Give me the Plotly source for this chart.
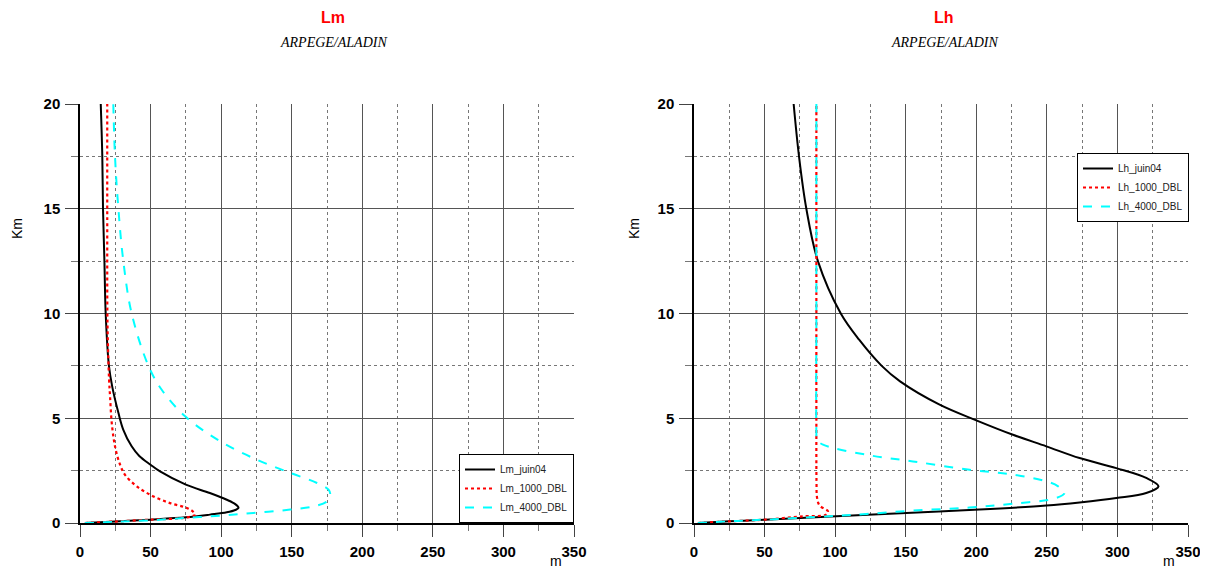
import plotly.graph_objects as go

# ---------------- data (x in m, height in km) ----------------
lm_juin04_x = [3.5, 25, 50, 75, 92, 104, 110, 112.3, 110, 104, 92, 75, 56.7, 50, 42, 36.6, 30.7, 27.2, 22.8, 20.5, 18.2, 17.3, 16.3, 15.8, 14.7]
lm_juin04_z = [0, 0.07, 0.16, 0.27, 0.40, 0.51, 0.62, 0.72, 0.90, 1.11, 1.43, 1.83, 2.46, 2.78, 3.2, 3.66, 4.45, 5.26, 6.52, 7.5, 10, 12.5, 15, 17.5, 20]

lm_1000_x = [3.5, 25, 50, 75, 81.6, 80, 75.7, 63.8, 52, 40.2, 31.9, 28.4, 24.8, 22.5, 21.3, 20.6, 19.8, 19.4, 19.3, 19.3]
lm_1000_z = [0, 0.07, 0.16, 0.26, 0.40, 0.55, 0.72, 0.95, 1.27, 1.75, 2.3, 2.78, 3.66, 4.77, 6.04, 6.84, 8.5, 10, 15, 20]

lm_4000_x = [3.5, 25, 50, 74.5, 99.3, 122.9, 149, 165.5, 175, 177.3, 176.1, 167.9, 149, 125.3, 99.3, 74.5, 57.9, 48.5, 36.6, 30.7, 27.2, 24.8, 23.6]
lm_4000_z = [0, 0.06, 0.13, 0.24, 0.35, 0.48, 0.64, 0.79, 1.03, 1.35, 1.59, 1.91, 2.39, 3.02, 3.9, 5.09, 6.36, 7.5, 10, 12.5, 15, 17.5, 20]

lh_juin04_x = [2.8, 25, 50, 100.8, 150.4, 202.3, 249.6, 273.2, 299.2, 320.4, 329.1, 320.4, 299.2, 273.2, 249.6, 226, 200, 174, 146, 133, 117, 104, 87.8, 79.6, 74.4, 70.6]
lh_juin04_z = [0, 0.08, 0.16, 0.32, 0.48, 0.64, 0.83, 0.98, 1.19, 1.43, 1.75, 2.15, 2.62, 3.10, 3.66, 4.21, 4.90, 5.65, 6.76, 7.5, 8.75, 10, 12.5, 15, 17.5, 20]

lh_1000_x = [2.8, 25, 50, 77.2, 93.7, 94.9, 89, 87.2, 86.8, 86.7, 86.7, 86.7]
lh_1000_z = [0, 0.08, 0.16, 0.32, 0.40, 0.56, 0.83, 1.2, 2, 5, 10, 20]

lh_4000_x = [2.8, 25, 50, 96.1, 122, 155.1, 195.3, 226, 256.6, 262.5, 258, 249.6, 226, 195.3, 155.1, 122, 91.4, 87, 86.7, 86.7, 86.7]
lh_4000_z = [0, 0.08, 0.16, 0.32, 0.43, 0.59, 0.74, 0.92, 1.19, 1.43, 1.75, 1.99, 2.31, 2.54, 2.94, 3.26, 3.74, 3.98, 4.3, 10, 20]

titles = ["Lm", "Lh"]
subtitle = "ARPEGE/ALADIN"
x_ticks = [0, 50, 100, 150, 200, 250, 300, 350]
y_ticks = [0, 5, 10, 15, 20]

# ---------------- figure ----------------
fig = go.Figure()

BLACK = dict(color="black", width=2, dash="solid")
RED = dict(color="#ff0000", width=2.2, dash="dot")
CYAN = dict(color="#00ffff", width=2, dash="dash")

def add(x, z, name, line, xa, ya, legend):
    fig.add_trace(go.Scatter(x=x, y=z, mode="lines", name=name,
                             line=dict(shape="spline", smoothing=1.0, **line),
                             xaxis=xa, yaxis=ya, legend=legend))

add(lm_juin04_x, lm_juin04_z, "Lm_juin04", BLACK, "x", "y", "legend")
add(lm_1000_x, lm_1000_z, "Lm_1000_DBL", RED, "x", "y", "legend")
add(lm_4000_x, lm_4000_z, "Lm_4000_DBL", CYAN, "x", "y", "legend")
add(lh_juin04_x, lh_juin04_z, "Lh_juin04", BLACK, "x2", "y2", "legend2")
add(lh_1000_x, lh_1000_z, "Lh_1000_DBL", RED, "x2", "y2", "legend2")
add(lh_4000_x, lh_4000_z, "Lh_4000_DBL", CYAN, "x2", "y2", "legend2")

# page body has an 8px margin: work in window pixels, shift by OFF
OFF = 8
W, H = 1208 - OFF, 573 - OFF
L, R, T = 80 - OFF, 1208 - 1188, 104 - OFF
B = 573 - 523
PW = W - L - R
PH = H - T - B

def px(xpix):
    return (xpix - OFF - L) / PW

def py(ypix):
    return (H - B - (ypix - OFF)) / PH

tickfont = dict(family="Liberation Sans", size=15, color="black", weight="bold")

def xaxis(domain, anchor):
    return dict(domain=domain, anchor=anchor, range=[0, 350],
                tickvals=x_ticks, ticks="outside", ticklen=12, tickcolor="#444",
                tickwidth=1, tickfont=tickfont, ticklabelstandoff=2,
                showgrid=True, gridcolor="#555", gridwidth=1,
                minor=dict(dtick=25, tick0=0, ticks="outside", ticklen=6, tickcolor="#777",
                           showgrid=True, gridcolor="#777", griddash="dot", gridwidth=1),
                showline=True, linecolor="black", linewidth=1.5, zeroline=False, fixedrange=True)

def yaxis(anchor):
    return dict(domain=[0, 1], anchor=anchor, range=[0, 20],
                tickvals=y_ticks, ticks="outside", ticklen=13, tickcolor="#444",
                tickwidth=1, tickfont=tickfont, ticklabelstandoff=2,
                showgrid=True, gridcolor="#555", gridwidth=1,
                minor=dict(dtick=2.5, tick0=0, ticks="outside", ticklen=7, tickcolor="#777",
                           showgrid=True, gridcolor="#777", griddash="dot", gridwidth=1),
                showline=True, linecolor="black", linewidth=1.5, zeroline=False, fixedrange=True)

legend_common = dict(bgcolor="white", bordercolor="black", borderwidth=1,
                     font=dict(family="Liberation Sans", size=10, color="#222"),
                     tracegroupgap=0, itemwidth=30)

annotations = []
for title, cx in zip(titles, [333, 944]):
    annotations.append(dict(text=f"<b>{title}</b>", x=px(cx), y=py(17.5), xref="paper", yref="paper",
                            showarrow=False, xanchor="center", yanchor="middle",
                            font=dict(family="Liberation Sans", size=16, color="#ff0000")))
    annotations.append(dict(text=f"<i>{subtitle}</i>", x=px(cx), y=py(42.7), xref="paper", yref="paper",
                            showarrow=False, xanchor="center", yanchor="middle",
                            font=dict(family="Liberation Serif", size=14, color="black")))
for kx, mx in [(17, 556), (634, 1169)]:
    annotations.append(dict(text="Km", x=px(kx), y=py(229), xref="paper", yref="paper",
                            showarrow=False, xanchor="center", yanchor="middle", textangle=-90,
                            font=dict(family="Liberation Sans", size=14, color="black")))
    annotations.append(dict(text="m", x=px(mx), y=py(561), xref="paper", yref="paper",
                            showarrow=False, xanchor="center", yanchor="middle",
                            font=dict(family="Liberation Sans", size=14, color="black")))

fig.update_layout(
    width=W, height=H,
    margin=dict(l=L, r=R, t=T, b=B, autoexpand=False),
    paper_bgcolor="white", plot_bgcolor="white",
    xaxis=xaxis([0, px(574)], "y"),
    yaxis=yaxis("x"),
    xaxis2=xaxis([px(694), 1.0], "y2"),
    yaxis2=yaxis("x2"),
    legend=dict(x=px(574), y=0, xanchor="right", yanchor="bottom", **legend_common),
    legend2=dict(x=px(1189), y=py(153), xanchor="right", yanchor="top", **legend_common),
    annotations=annotations,
    showlegend=True,
)

fig.write_html("out.html")
